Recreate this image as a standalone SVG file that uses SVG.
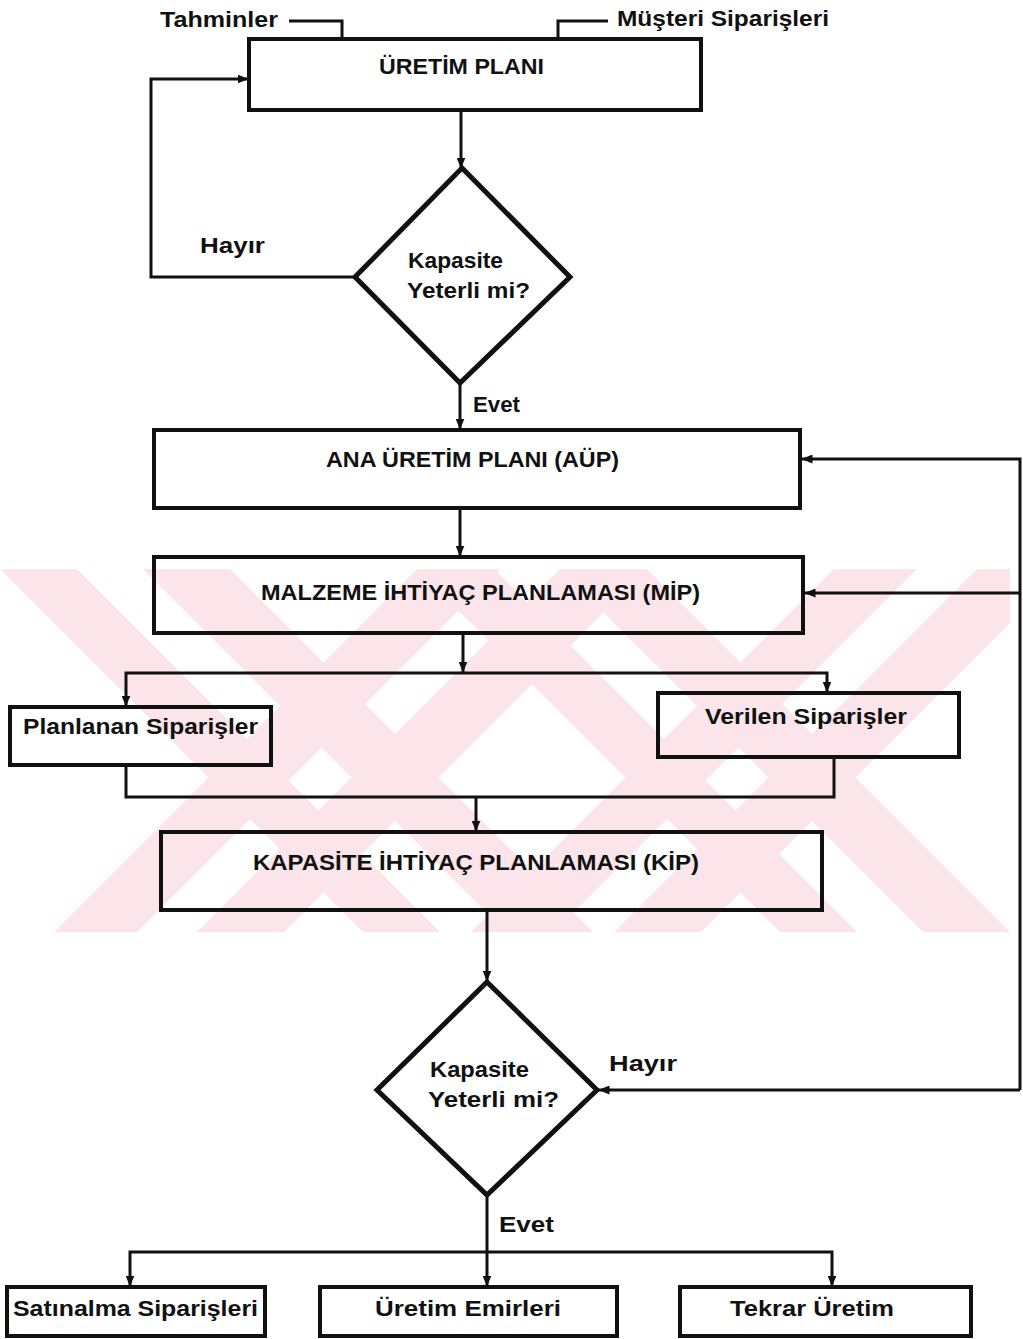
<svg xmlns="http://www.w3.org/2000/svg" width="1023" height="1339" viewBox="0 0 1023 1339">
  <defs>
    <style>
      .box { fill: none; stroke: #111; stroke-width: 4; }
      .dia { fill: none; stroke: #111; stroke-width: 5; stroke-linejoin: miter; }
      .ln { fill: none; stroke: #111; stroke-width: 3; }
      .arr { marker-end: url(#ah); }
      .t { font-family: "Liberation Sans Narrow", "Liberation Sans", Arial, sans-serif; font-weight: bold; font-size: 22px; fill: #111; }
      .wm { fill: #fce5ea; }
    </style>
    <marker id="ah" viewBox="0 0 11 9" refX="10.5" refY="4.5" markerWidth="11" markerHeight="9" markerUnits="userSpaceOnUse" orient="auto">
      <path d="M0,0 L11,4.5 L0,9 z" fill="#111"/>
    </marker>
    <clipPath id="wmclip">
      <rect x="0" y="569" width="1010" height="363"/>
    </clipPath>
  </defs>

  <rect x="0" y="0" width="1023" height="1339" fill="#fff"/>

  <!-- background watermark: crossed diagonal bands -->
  <g id="watermark" class="wm" clip-path="url(#wmclip)">
    <polygon points="0,569 77,569 440,932 363,932"/>
    <polygon points="143,569 230,569 593,932 506,932"/>
    <polygon points="417,569 500,569 137,932 54,932"/>
    <polygon points="560,569 647,569 284,932 197,932"/>
    <polygon points="417,569 494,569 857,932 780,932"/>
    <polygon points="560,569 647,569 1010,932 923,932"/>
    <polygon points="834,569 917,569 554,932 471,932"/>
    <polygon points="977,569 1064,569 701,932 614,932"/>
  </g>

  <!-- connectors -->
  <g id="connectors">
    <path class="ln" d="M289,21 H342 V39"/>
    <path class="ln" d="M608,21 H558 V39"/>
    <path class="ln arr" d="M461,112 V168"/>
    <path class="ln arr" d="M356,277 H151 V79 H248"/>
    <path class="ln arr" d="M460,384 V429"/>
    <path class="ln arr" d="M460,510 V556"/>
    <path class="ln arr" d="M463,635 V672"/>
    <path class="ln arr" d="M463,673 H126 V706"/>
    <path class="ln arr" d="M463,673 H827 V692"/>
    <path class="ln" d="M126,767 V797 H834 V759"/>
    <path class="ln arr" d="M476,797 V831"/>
    <path class="ln arr" d="M487,912 V981"/>
    <path class="ln arr" d="M1020,1090 H599"/>
    <path class="ln arr" d="M1020,1090 V459 H802"/>
    <path class="ln arr" d="M1020,593 H805"/>
    <path class="ln" d="M487,1197 V1252"/>
    <path class="ln arr" d="M487,1252 H130 V1286"/>
    <path class="ln arr" d="M487,1252 V1286"/>
    <path class="ln arr" d="M487,1252 H832 V1286"/>
  </g>

  <!-- inputs -->
  <g id="tahminler">
    <text class="t" x="160" y="27" textLength="118" lengthAdjust="spacingAndGlyphs">Tahminler</text>
  </g>
  <g id="musteri-siparisleri">
    <text class="t" x="617" y="26" textLength="212" lengthAdjust="spacingAndGlyphs">Müşteri Siparişleri</text>
  </g>

  <g id="uretim-plani">
    <rect class="box" x="249" y="39" width="452" height="71"/>
    <text class="t" x="379" y="74" textLength="165" lengthAdjust="spacingAndGlyphs">ÜRETİM PLANI</text>
  </g>

  <g id="karar-1">
    <polygon class="dia" points="462,168 570,277 460,383 355,277"/>
    <text class="t" x="408" y="268" textLength="95" lengthAdjust="spacingAndGlyphs">Kapasite</text>
    <text class="t" x="407" y="298" textLength="123" lengthAdjust="spacingAndGlyphs">Yeterli mi?</text>
    <text class="t" x="200" y="253" textLength="65" lengthAdjust="spacingAndGlyphs">Hayır</text>
    <text class="t" x="473" y="412" textLength="47" lengthAdjust="spacingAndGlyphs">Evet</text>
  </g>

  <g id="aup">
    <rect class="box" x="154" y="430" width="646" height="78"/>
    <text class="t" x="326" y="467" font-size="20" textLength="293" lengthAdjust="spacingAndGlyphs">ANA ÜRETİM PLANI (AÜP)</text>
  </g>

  <g id="mip">
    <rect class="box" x="154" y="557" width="649" height="76"/>
    <text class="t" x="261" y="600" font-size="21" textLength="439" lengthAdjust="spacingAndGlyphs">MALZEME İHTİYAÇ PLANLAMASI (MİP)</text>
  </g>

  <g id="planlanan-siparisler">
    <rect class="box" x="10" y="707" width="261" height="58"/>
    <text class="t" x="23" y="734" textLength="235" lengthAdjust="spacingAndGlyphs">Planlanan Siparişler</text>
  </g>

  <g id="verilen-siparisler">
    <rect class="box" x="658" y="693" width="301" height="64"/>
    <text class="t" x="705" y="724" textLength="202" lengthAdjust="spacingAndGlyphs">Verilen Siparişler</text>
  </g>

  <g id="kip">
    <rect class="box" x="161" y="832" width="661" height="78"/>
    <text class="t" x="253" y="870" font-size="21" textLength="446" lengthAdjust="spacingAndGlyphs">KAPASİTE İHTİYAÇ PLANLAMASI (KİP)</text>
  </g>

  <g id="karar-2">
    <polygon class="dia" points="487,982 597,1090 487,1195 377,1090"/>
    <text class="t" x="430" y="1077" textLength="99" lengthAdjust="spacingAndGlyphs">Kapasite</text>
    <text class="t" x="428" y="1107" textLength="131" lengthAdjust="spacingAndGlyphs">Yeterli mi?</text>
    <text class="t" x="609" y="1071" textLength="68" lengthAdjust="spacingAndGlyphs">Hayır</text>
    <text class="t" x="499" y="1232" textLength="55" lengthAdjust="spacingAndGlyphs">Evet</text>
  </g>

  <g id="satinalma-siparisleri">
    <rect class="box" x="7" y="1287" width="258" height="49"/>
    <text class="t" x="13" y="1316" textLength="245" lengthAdjust="spacingAndGlyphs">Satınalma Siparişleri</text>
  </g>

  <g id="uretim-emirleri">
    <rect class="box" x="320" y="1287" width="297" height="49"/>
    <text class="t" x="375" y="1316" textLength="186" lengthAdjust="spacingAndGlyphs">Üretim Emirleri</text>
  </g>

  <g id="tekrar-uretim">
    <rect class="box" x="680" y="1287" width="291" height="49"/>
    <text class="t" x="730" y="1316" textLength="164" lengthAdjust="spacingAndGlyphs">Tekrar Üretim</text>
  </g>
</svg>
